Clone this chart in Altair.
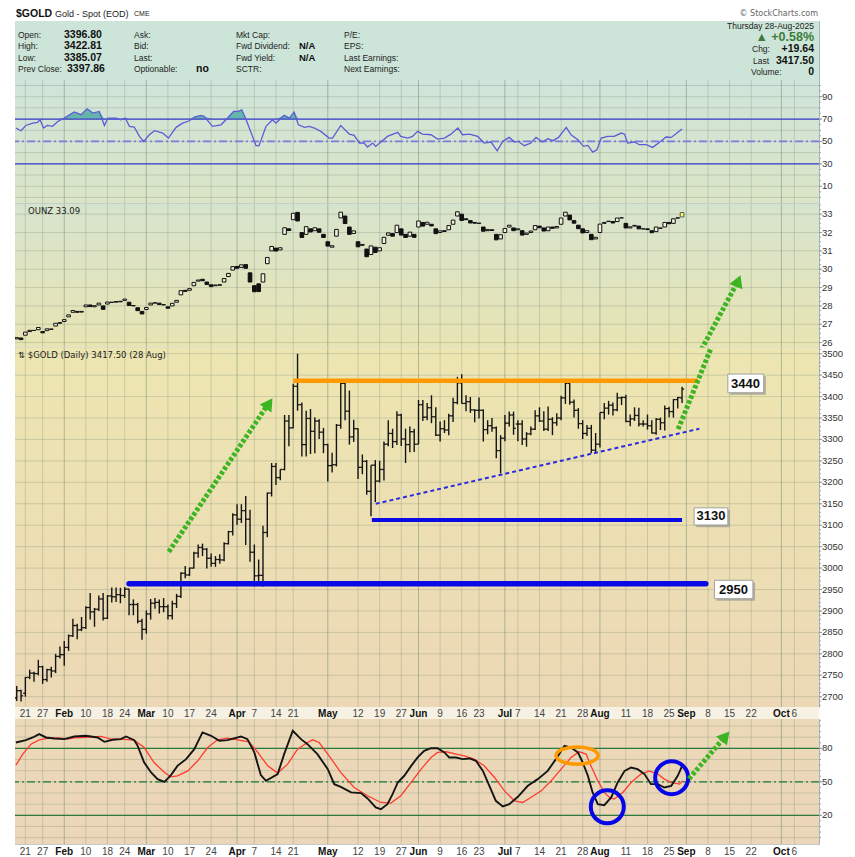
import altair as alt
import pandas as pd

W = 804

# ---------------- trading-day axis ----------------
tick_idx = [2, 6, 11, 16, 21, 25, 30, 35, 40, 45, 51, 55, 60, 64, 72, 79, 84, 89, 93, 98, 103, 107,
            113, 116, 121, 126, 131, 135, 141, 146, 151, 155, 160, 165, 170, 177, 180]
tick_lab = ["21", "27", "Feb", "10", "18", "24", "Mar", "10", "17", "24", "Apr", "7", "14", "21",
            "May", "12", "19", "27", "Jun", "9", "16", "23", "Jul", "7", "14", "21", "28", "Aug",
            "11", "18", "25", "Sep", "8", "15", "22", "Oct", "6"]

# ---------------- $GOLD daily OHLC (Jan 16 .. Aug 28, 2025) ----------------
gold_open = [2697, 2714, 2708, 2745, 2755, 2754, 2770, 2740, 2763, 2760, 2794,
             2798, 2815, 2842, 2866, 2856, 2861, 2908, 2898, 2904, 2928, 2883, 2935, 2933, 2938, 2936, 2951, 2915, 2915, 2876,
             2857, 2893, 2918, 2920, 2910, 2910, 2889, 2917, 2934, 2988, 2984, 3000, 3035, 3048, 3044, 3023, 3011, 3020, 3019, 3057, 3085,
             3124, 3114, 3134, 3114, 3037, 2982, 2983, 3083, 3175, 3237, 3211, 3230, 3343, 3327, 3424, 3381, 3288, 3349, 3319, 3343, 3317,
             3288, 3239, 3241, 3333, 3431, 3366, 3306, 3325, 3235, 3249, 3179, 3240, 3203, 3230, 3289, 3314, 3295, 3357, 3301, 3288, 3318,
             3289, 3381, 3352, 3374, 3353, 3310, 3325, 3322, 3355, 3386, 3432, 3384, 3388, 3369, 3368, 3368, 3323, 3332, 3327, 3274,
             3303, 3338, 3357, 3336, 3336, 3301, 3313, 3324, 3355, 3343, 3324, 3347, 3339, 3350, 3397, 3431, 3387, 3368, 3337, 3314, 3326, 3275,
             3289, 3363, 3373, 3380, 3369, 3397, 3398, 3342, 3348, 3356, 3336, 3336, 3332, 3315, 3347, 3339, 3372, 3365, 3393, 3397]
gold_high = [2725, 2716, 2746, 2763, 2758, 2786, 2772, 2765, 2770, 2800, 2817,
             2830, 2845, 2882, 2870, 2886, 2911, 2942, 2907, 2936, 2942, 2937, 2955, 2955, 2954, 2956, 2952, 2927, 2919, 2882,
             2901, 2928, 2930, 2927, 2930, 2915, 2924, 2940, 2990, 3005, 3001, 3038, 3055, 3057, 3047, 3034, 3028, 3032, 3060, 3087, 3128,
             3149, 3149, 3168, 3136, 3055, 3020, 3099, 3176, 3245, 3245, 3230, 3357, 3357, 3430, 3500, 3386, 3367, 3371, 3352, 3347, 3327,
             3290, 3269, 3336, 3437, 3434, 3414, 3346, 3326, 3265, 3252, 3240, 3252, 3250, 3295, 3345, 3325, 3366, 3360, 3325, 3330, 3325,
             3392, 3392, 3385, 3403, 3375, 3342, 3345, 3360, 3397, 3446, 3452, 3403, 3399, 3370, 3398, 3370, 3345, 3350, 3330, 3310,
             3357, 3365, 3365, 3345, 3345, 3317, 3330, 3368, 3375, 3366, 3377, 3352, 3361, 3402, 3433, 3438, 3393, 3373, 3345, 3334, 3334, 3315,
             3363, 3385, 3390, 3386, 3409, 3400, 3404, 3358, 3375, 3374, 3345, 3358, 3345, 3350, 3351, 3379, 3376, 3394, 3399, 3423]
gold_low = [2690, 2689, 2700, 2741, 2735, 2750, 2730, 2735, 2745, 2755, 2789,
            2772, 2807, 2839, 2834, 2853, 2858, 2880, 2863, 2900, 2878, 2881, 2920, 2921, 2918, 2930, 2890, 2890, 2871, 2833,
            2847, 2880, 2905, 2894, 2897, 2880, 2880, 2907, 2930, 2976, 2982, 2999, 3024, 3028, 2999, 3003, 3003, 3010, 3016, 3055, 3076,
            3101, 3105, 3054, 3015, 2957, 2970, 2957, 3072, 3167, 3194, 3205, 3228, 3284, 3326, 3367, 3260, 3260, 3266, 3268, 3301, 3268,
            3202, 3223, 3237, 3325, 3345, 3288, 3294, 3208, 3219, 3171, 3121, 3154, 3200, 3204, 3284, 3280, 3287, 3285, 3245, 3270, 3271,
            3289, 3343, 3345, 3338, 3308, 3295, 3315, 3310, 3341, 3382, 3384, 3366, 3362, 3340, 3349, 3295, 3312, 3318, 3256, 3221,
            3296, 3330, 3311, 3296, 3287, 3283, 3310, 3322, 3341, 3320, 3320, 3310, 3332, 3345, 3383, 3381, 3351, 3325, 3301, 3308, 3268, 3270,
            3281, 3347, 3358, 3356, 3366, 3380, 3340, 3331, 3343, 3330, 3330, 3323, 3314, 3311, 3322, 3321, 3352, 3351, 3372, 3385]
gold_close = [2714, 2702, 2745, 2755, 2754, 2770, 2740, 2763, 2760, 2794, 2798,
              2815, 2842, 2866, 2856, 2861, 2908, 2898, 2904, 2928, 2883, 2935, 2933, 2938, 2936, 2951, 2915, 2915, 2876, 2857,
              2893, 2918, 2920, 2910, 2910, 2889, 2917, 2934, 2988, 2984, 3000, 3035, 3048, 3044, 3023, 3011, 3020, 3019, 3057, 3085, 3124,
              3114, 3134, 3114, 3037, 2982, 2983, 3083, 3175, 3237, 3211, 3230, 3343, 3327, 3424, 3381, 3288, 3349, 3319, 3343, 3317, 3288,
              3239, 3241, 3333, 3431, 3366, 3306, 3325, 3235, 3249, 3179, 3240, 3203, 3230, 3289, 3314, 3295, 3357, 3301, 3288, 3318, 3289,
              3381, 3352, 3374, 3353, 3310, 3325, 3322, 3355, 3386, 3432, 3384, 3388, 3369, 3368, 3368, 3323, 3332, 3327, 3274, 3303,
              3338, 3357, 3326, 3336, 3301, 3313, 3324, 3355, 3343, 3324, 3347, 3339, 3350, 3397, 3431, 3387, 3368, 3337, 3314, 3326, 3275, 3289,
              3363, 3373, 3380, 3369, 3397, 3398, 3342, 3348, 3356, 3336, 3336, 3332, 3315, 3347, 3339, 3372, 3365, 3393, 3397.86, 3417.5]

# ---------------- OUNZ daily open / close ----------------
ounz_close = [26.27, 26.16, 26.57, 26.67, 26.66, 26.82, 26.53, 26.75, 26.72, 27.05, 27.09,
              27.25, 27.51, 27.75, 27.65, 27.70, 28.05, 27.96, 28.01, 28.15, 27.81, 28.21, 28.19, 28.24, 28.22, 28.37, 28.02, 28.02, 27.74, 27.56,
              27.91, 28.15, 28.17, 28.07, 28.07, 27.87, 28.14, 28.30, 28.83, 28.79, 28.94, 29.28, 29.41, 29.37, 29.17, 29.05, 29.14, 29.13, 29.49, 29.77, 30.14,
              30.05, 30.24, 30.05, 29.30, 28.77, 28.78, 29.75, 30.64, 31.24, 30.99, 31.17, 32.26, 32.11, 33.05, 32.63, 31.73, 32.32, 32.03, 32.26, 32.01, 31.73,
              31.26, 31.28, 32.17, 33.11, 32.49, 31.90, 32.09, 31.22, 31.35, 30.68, 31.27, 30.91, 31.17, 31.74, 31.98, 31.80, 32.40, 31.86, 31.73, 32.02, 31.74,
              32.63, 32.35, 32.56, 32.36, 31.94, 32.09, 32.06, 32.38, 32.68, 33.13, 32.66, 32.70, 32.52, 32.51, 32.51, 32.07, 32.16, 32.11, 31.60, 31.88,
              32.22, 32.40, 32.10, 32.20, 31.86, 31.97, 32.08, 32.38, 32.26, 32.08, 32.30, 32.23, 32.33, 32.79, 33.11, 32.69, 32.51, 32.21, 31.98, 32.10, 31.61, 31.74,
              32.46, 32.55, 32.62, 32.52, 32.79, 32.80, 32.25, 32.31, 32.39, 32.20, 32.20, 32.16, 31.99, 32.30, 32.23, 32.55, 32.48, 32.75, 32.79, 33.09]
ounz_open = [26.20, 26.25, 26.40, 26.60, 26.66, 26.70, 26.60, 26.65, 26.74, 26.90, 27.05,
             27.15, 27.40, 27.65, 27.70, 27.66, 27.95, 28.05, 27.95, 28.05, 28.00, 28.10, 28.20, 28.20, 28.25, 28.30, 28.20, 28.00, 27.90, 27.70,
             27.80, 28.05, 28.15, 28.15, 28.05, 27.95, 28.00, 28.20, 28.60, 28.85, 28.85, 29.10, 29.35, 29.45, 29.30, 29.15, 29.10, 29.15, 29.30, 29.60, 29.95,
             30.15, 30.10, 30.25, 29.80, 29.10, 29.20, 29.30, 30.30, 31.00, 31.15, 31.05, 31.90, 32.20, 32.70, 33.10, 32.00, 31.90, 32.20, 32.10, 32.20, 31.90,
             31.50, 31.20, 31.80, 32.80, 32.90, 32.30, 31.95, 31.50, 31.30, 31.10, 30.80, 31.20, 31.00, 31.40, 31.85, 31.95, 32.00, 32.20, 31.90, 31.80, 31.90,
             32.30, 32.55, 32.45, 32.45, 32.20, 32.00, 32.10, 32.15, 32.45, 32.90, 33.00, 32.75, 32.65, 32.55, 32.50, 32.30, 32.10, 32.15, 31.90, 31.65,
             32.00, 32.30, 32.25, 32.15, 32.10, 31.90, 32.00, 32.15, 32.35, 32.25, 32.10, 32.30, 32.25, 32.45, 32.90, 32.95, 32.65, 32.40, 32.20, 32.00, 31.90, 31.65,
             32.00, 32.50, 32.60, 32.60, 32.60, 32.80, 32.50, 32.25, 32.35, 32.35, 32.20, 32.20, 32.10, 32.05, 32.25, 32.30, 32.55, 32.50, 32.80, 32.85]

# ---------------- RSI(14) ----------------
rsi_x = [-0.2, 1.0, 2.1, 3.7, 4.8, 5.4, 6.2, 7.1, 8.3, 9.5, 11.0, 13.3, 14.9, 16.3, 17.6, 19.1, 20.3, 21.1, 23.0, 24.1,
         25.1, 26.1, 27.2, 28.4, 29.4, 30.7, 31.9, 33.8, 35.1, 36.9, 38.4, 40.0, 41.1, 42.6, 43.4, 45.3, 47.3, 48.8, 50.2, 51.3,
         52.1, 53.1, 55.4, 56.1, 57.7, 59.2, 60.0, 61.9, 63.1, 64.2, 65.2, 66.6, 67.7, 68.9, 70.4, 72.3, 73.1, 75.0, 77.0, 78.1,
         79.3, 80.4, 81.2, 82.4, 83.1, 85.8, 88.2, 88.9, 90.5, 91.6, 92.8, 93.9, 95.9, 97.4, 99.0, 100.5, 102.1, 103.2, 104.8, 106.7,
         108.2, 109.8, 111.2, 112.5, 114.0, 115.2, 116.1, 117.5, 119.0, 120.2, 121.7, 122.9, 124.1, 125.4, 127.2, 128.3, 129.9, 131.2, 132.2, 133.3,
         134.3, 135.3, 136.8, 138.3, 139.9, 140.7, 141.4, 143.0, 144.1, 145.7, 147.2, 148.8, 150.3, 151.5, 152.6, 154.0]
rsi_v = [62.0, 59.6, 64.3, 66.4, 67.0, 69.4, 62.0, 64.3, 63.5, 67.9, 70.9, 76.3, 73.9, 79.2, 75.4, 76.8, 64.3, 70.9, 70.9, 69.4,
         70.9, 63.5, 62.9, 54.5, 50.1, 56.0, 59.6, 57.5, 53.0, 62.6, 66.4, 68.5, 71.8, 73.3, 72.4, 63.5, 64.9, 70.9, 76.8, 76.8,
         78.3, 69.4, 46.2, 46.2, 63.5, 69.4, 66.4, 73.3, 70.9, 76.3, 64.9, 62.6, 63.5, 62.0, 59.0, 53.0, 53.0, 64.3, 56.5, 55.4,
         48.6, 48.6, 45.0, 48.6, 45.6, 54.5, 58.1, 54.5, 53.0, 54.5, 59.0, 56.5, 56.0, 52.1, 53.0, 56.5, 62.0, 56.0, 56.5, 54.5,
         48.6, 49.5, 41.7, 50.1, 53.6, 49.5, 50.1, 46.2, 48.6, 53.6, 49.5, 52.4, 50.7, 53.6, 62.6, 56.0, 51.5, 45.6, 46.5, 40.5,
         42.6, 53.0, 54.5, 54.5, 57.5, 56.5, 48.6, 49.5, 47.1, 47.1, 44.7, 49.2, 54.0, 53.6, 56.8, 61.1]

# ---------------- Slow stochastics %K / %D ----------------
k_x = [-0.2, 2.1, 3.7, 5.2, 6.8, 8.7, 11.0, 13.3, 16.0, 18.7, 20.3, 22.2, 24.1, 25.3, 27.2, 28.0, 29.5, 31.1, 32.6, 34.2,
       35.7, 37.2, 39.2, 41.1, 43.0, 45.0, 46.9, 48.8, 51.9, 53.4, 55.0, 56.5, 57.7, 60.4, 61.9, 63.9, 65.8, 67.3, 69.6, 72.0,
       73.5, 75.0, 77.4, 79.7, 81.2, 83.1, 84.3, 85.8, 87.0, 88.2, 89.7, 91.3, 92.8, 94.3, 95.9, 97.4, 99.0, 100.1, 101.7, 103.2,
       104.8, 106.3, 107.9, 109.4, 110.9, 112.5, 114.0, 116.0, 118.3, 120.6, 122.9, 124.8, 126.8, 128.3, 129.9, 131.0, 132.2, 133.3, 134.5, 136.0,
       137.6, 139.1, 140.7, 142.2, 143.7, 145.3, 146.8, 148.4, 149.9, 151.5, 153.0, 154.2]
k_v = [85.2, 87.3, 89.7, 92.7, 89.7, 88.8, 88.2, 90.6, 91.2, 89.7, 85.8, 87.6, 88.2, 90.6, 87.3, 82.2, 67.3, 58.4, 52.4, 50.0,
       56.0, 64.3, 70.3, 79.2, 94.2, 91.2, 86.7, 87.3, 90.6, 88.2, 76.3, 56.0, 50.9, 56.9, 74.8, 95.7, 88.2, 83.7, 74.8, 61.3,
       47.9, 45.5, 40.5, 39.9, 35.1, 27.0, 25.5, 30.0, 39.0, 49.4, 55.4, 64.3, 71.8, 77.8, 80.2, 80.1, 76.3, 71.8, 71.8, 70.3,
       70.9, 68.8, 59.8, 46.4, 33.0, 27.9, 30.0, 36.6, 46.4, 52.4, 59.8, 70.3, 82.2, 80.7, 76.3, 67.3, 55.4, 40.5, 30.0, 29.1,
       36.0, 49.4, 59.8, 62.8, 61.3, 56.9, 47.9, 47.9, 44.9, 46.4, 55.4, 65.8]
d_x = [-0.2, 1.4, 3.3, 5.2, 7.1, 9.8, 11.8, 13.3, 16.4, 19.5, 21.8, 24.1, 27.2, 29.5, 31.8, 34.2, 35.7, 37.2, 39.6, 41.9,
       44.2, 46.5, 48.8, 51.1, 53.8, 55.8, 58.1, 60.4, 62.7, 65.0, 67.3, 68.5, 70.0, 72.3, 75.0, 78.1, 81.2, 84.3, 86.6, 88.9,
       91.3, 93.6, 95.9, 97.4, 99.4, 101.7, 103.6, 105.9, 108.2, 110.6, 112.9, 115.2, 117.1, 119.0, 121.4, 123.7, 126.0, 128.3, 130.2, 131.8,
       132.9, 134.5, 136.0, 137.2, 138.3, 140.3, 142.2, 144.5, 146.4, 148.4, 149.9, 151.5, 153.4, 154.2]
d_v = [64.9, 74.8, 83.7, 87.6, 88.8, 89.4, 88.2, 89.4, 89.7, 90.6, 88.2, 88.2, 87.3, 80.7, 67.3, 58.4, 54.5, 55.4, 59.8, 68.8,
       80.7, 87.6, 89.1, 87.6, 85.8, 76.3, 64.3, 57.8, 65.8, 79.2, 85.2, 87.6, 85.2, 73.3, 58.4, 44.9, 37.5, 31.5, 30.9, 37.5,
       49.4, 61.3, 71.8, 76.3, 76.9, 74.8, 73.3, 70.3, 64.3, 53.9, 41.9, 33.0, 31.5, 36.0, 41.9, 50.9, 61.3, 71.8, 76.9, 74.8,
       64.3, 50.9, 40.5, 36.0, 34.5, 40.5, 49.4, 56.9, 59.8, 56.9, 52.4, 49.4, 47.9, 50.9]

# ---------------- scales ----------------
XS = alt.Scale(domain=[-0.4, 185.7], nice=False, zero=False)
RS = alt.Scale(domain=[-5.2, 104.9], nice=False, zero=False)
OS = alt.Scale(domain=[25.73, 33.556], nice=False, zero=False)
GY = alt.Scale(domain=[2676.0, 3513.3], nice=False, zero=False)
SS = alt.Scale(domain=[-5.92, 106.24], nice=False, zero=False)

H_HDR, H_RSI, H_OUNZ, H_GOLD, H_STRIP, H_STO = 59, 123.25, 143.5, 359, 12, 125.25

ticks_df = pd.DataFrame({"t": tick_idx, "lab": tick_lab, "major": [l.isalpha() for l in tick_lab]})
GRIDC = "#6f8a72"
FONT = "Liberation Sans"


def bg(h, c1, c2):
    grad = alt.LinearGradient(gradient="linear", x1=0, x2=0, y1=0, y2=1,
                              stops=[alt.GradientStop(color=c1, offset=0),
                                     alt.GradientStop(color=c2, offset=1)])
    return alt.Chart(alt.Data(values=[{"k": 0}])).mark_rect(color=grad).encode(
        x=alt.value(0), x2=alt.value(W), y=alt.value(0), y2=alt.value(h))


def vgrid():
    minor = alt.Chart(ticks_df).transform_filter("!datum.major").mark_rule(
        color=GRIDC, opacity=0.28, strokeWidth=1, clip=True).encode(x=alt.X("t:Q", scale=XS, axis=None))
    major = alt.Chart(ticks_df).transform_filter("datum.major").mark_rule(
        color=GRIDC, opacity=0.5, strokeWidth=1, clip=True).encode(x=alt.X("t:Q", scale=XS, axis=None))
    return [minor, major]


def hgrid(vals, ys, label_vals, minor_vals):
    gdf = pd.DataFrame({"v": vals})
    ldf = pd.DataFrame({"v": label_vals, "s": [str(v) for v in label_vals]})
    mdf = pd.DataFrame({"v": minor_vals})
    grid = alt.Chart(gdf).mark_rule(color=GRIDC, opacity=0.28, strokeWidth=1, clip=True).encode(
        y=alt.Y("v:Q", scale=ys, axis=None))
    mtk = alt.Chart(mdf).mark_rule(color="#9aa8b0", strokeWidth=1, clip=False).encode(
        x=alt.value(W), x2=alt.value(W + 2), y=alt.Y("v:Q", scale=ys, axis=None))
    tk = alt.Chart(ldf).mark_rule(color="#8a9aa4", strokeWidth=1).encode(
        x=alt.value(W), x2=alt.value(W + 3), y=alt.Y("v:Q", scale=ys, axis=None))
    lab = alt.Chart(ldf).mark_text(align="left", baseline="middle", font=FONT, fontSize=9.5,
                                   color="#333333").encode(
        x=alt.value(W + 3), y=alt.Y("v:Q", scale=ys, axis=None), text="s:N")
    return [grid, mtk, tk, lab]


def level(vals, ys, **kw):
    return alt.Chart(pd.DataFrame({"v": vals})).mark_rule(clip=True, **kw).encode(
        y=alt.Y("v:Q", scale=ys, axis=None))


def px_text(items, **kw):
    df = pd.DataFrame(items, columns=["x", "y", "s"])
    return alt.Chart(df).mark_text(baseline="middle", **kw).encode(
        x=alt.X("x:Q", scale=None, axis=None), y=alt.Y("y:Q", scale=None, axis=None), text="s:N")


def seg(df, ys, **kw):
    return alt.Chart(df).mark_rule(clip=True, **kw).encode(
        x=alt.X("x1:Q", scale=XS, axis=None), x2="x2:Q",
        y=alt.Y("y1:Q", scale=ys, axis=None), y2="y2:Q")


def head(x, y, ys, ang, size=200):
    return alt.Chart(pd.DataFrame({"x": [x], "y": [y]})).mark_point(
        shape="triangle-up", filled=True, size=size, angle=ang, color="#3db523", opacity=1).encode(
        x=alt.X("x:Q", scale=XS, axis=None), y=alt.Y("y:Q", scale=ys, axis=None))


# ---------------- header ----------------
hdr = alt.layer(
    bg(H_HDR, "#cde5d9", "#cde5d9"),
    px_text([(1, -7, "$GOLD")], align="left", font=FONT, fontSize=10.5, fontWeight="bold", color="#111"),
    px_text([(40, -7, "Gold - Spot (EOD)")], align="left", font=FONT, fontSize=9, color="#222"),
    px_text([(119, -7, "CME")], align="left", font=FONT, fontSize=7, color="#222"),
    px_text([(803, -7, "© StockCharts.com")], align="right", font="DejaVu Sans", fontSize=8, color="#666"),
    px_text([(3, 14, "Open:"), (3, 25.3, "High:"), (3, 36.6, "Low:"), (3, 47.8, "Prev Close:"),
             (119, 14, "Ask:"), (119, 25.3, "Bid:"), (119, 36.6, "Last:"), (119, 47.8, "Optionable:"),
             (221, 14, "Mkt Cap:"), (221, 25.3, "Fwd Dividend:"), (221, 36.6, "Fwd Yield:"), (221, 47.8, "SCTR:"),
             (329, 14, "P/E:"), (329, 25.3, "EPS:"), (329, 36.6, "Last Earnings:"), (329, 47.8, "Next Earnings:"),
             (737, 28, "Chg:"), (738, 39.5, "Last"), (736, 50.5, "Volume:")],
            align="left", font=FONT, fontSize=8.5, color="#222"),
    px_text([(799, 4.5, "Thursday  28-Aug-2025")], align="right", font=FONT, fontSize=8.5, color="#222"),
    px_text([(49, 14, "3396.80"), (49, 25.3, "3422.81"), (49, 36.6, "3385.07"), (52, 47.8, "3397.86"),
             (181, 47.8, "no")], align="left", font=FONT, fontSize=10.5, fontWeight="bold", color="#111"),
    px_text([(284, 25.3, "N/A"), (284, 36.6, "N/A")], align="left", font=FONT, fontSize=9.5,
            fontWeight="bold", color="#111"),
    px_text([(799, 28, "+19.64"), (799, 39.5, "3417.50"), (799, 50.5, "0")], align="right", font=FONT,
            fontSize=10.5, fontWeight="bold", color="#111"),
    px_text([(799, 15.5, "▲ +0.58%")], align="right", font=FONT, fontSize=12.5, fontWeight="bold",
            color="#3c7b3c"),
).properties(width=W, height=H_HDR)

# ---------------- RSI ----------------
rsi_df = pd.DataFrame({"i": rsi_x, "v": rsi_v})
rsi = alt.layer(
    bg(H_RSI, "#cfe4da", "#dbe5c6"),
    *vgrid(),
    *hgrid(list(range(0, 101, 10)), RS, [10, 30, 50, 70, 90], list(range(0, 101, 5))),
    alt.Chart(rsi_df).transform_calculate(top="max(datum.v, 70)").mark_area(
        color="#5db3a6", opacity=0.95, clip=True).encode(
        x=alt.X("i:Q", scale=XS, axis=None), y=alt.Y("top:Q", scale=RS, axis=None), y2=alt.datum(70)),
    level([30, 70], RS, color="#3b3bd0", strokeWidth=1.2),
    level([50], RS, color="#7a7ae0", strokeWidth=1.8, strokeDash=[8, 3, 2, 3]),
    alt.Chart(rsi_df).mark_line(color="#5c5cd6", strokeWidth=1.3, clip=True).encode(
        x=alt.X("i:Q", scale=XS, axis=None), y=alt.Y("v:Q", scale=RS, axis=None)),
).properties(width=W, height=H_RSI)

# ---------------- OUNZ candles ----------------
o_df = pd.DataFrame({"i": list(range(len(ounz_close))), "o": ounz_open, "c": ounz_close})
ob = alt.Chart(o_df).transform_calculate(x1="datum.i - 0.42", x2="datum.i + 0.42")


def body(filt, fill, stroke):
    return ob.transform_filter(filt).mark_rect(fill=fill, stroke=stroke, strokeWidth=1, clip=True).encode(
        x=alt.X("x1:Q", scale=XS, axis=None), x2="x2:Q",
        y=alt.Y("o:Q", scale=OS, axis=None), y2="c:Q")


arr2b = pd.DataFrame({"x1": [153.1], "x2": [166.9], "y1": [23.24], "y2": [29.33]})
ounz = alt.layer(
    bg(H_OUNZ, "#d7e4cd", "#e8e4b3"),
    *vgrid(),
    *hgrid(list(range(26, 34)), OS, list(range(26, 34)), [v / 4 for v in range(104, 135)]),
    body("datum.c >= datum.o && datum.i < 154", "#eef0dc", "#111"),
    body("datum.c < datum.o", "#111", "#111"),
    body("datum.i == 154", "#ffff55", "#555"),
    alt.Chart(alt.Data(values=[{"s": "OUNZ 33.09"}])).mark_text(
        align="left", baseline="middle", font="DejaVu Sans", fontSize=8.5, color="#222").encode(
        x=alt.value(13), y=alt.value(6.5), text="s:N"),
    seg(arr2b, OS, color="#3db523", strokeWidth=5, strokeDash=[3.5, 2]),
    head(167.0, 29.36, OS, 22),
).properties(width=W, height=H_OUNZ)

# ---------------- GOLD bars + annotations ----------------
g_df = pd.DataFrame({"i": list(range(len(gold_close))), "o": gold_open, "h": gold_high,
                     "l": gold_low, "c": gold_close})
gb = alt.Chart(g_df)
bar_c = "#141414"
ann_res = pd.DataFrame({"x1": [64.0], "x2": [157.7], "y1": [3437.0], "y2": [3437.0]})
ann_s1 = pd.DataFrame({"x1": [82.2], "x2": [154.0], "y1": [3112.0], "y2": [3112.0]})
ann_s2 = pd.DataFrame({"x1": [26.0], "x2": [159.5], "y1": [2963.6], "y2": [2963.6]})
ann_tr = pd.DataFrame({"x1": [83.1], "x2": [158.0], "y1": [3150.0], "y2": [3325.0]})
arr1 = pd.DataFrame({"x1": [35.2], "x2": [57.9], "y1": [3038.0], "y2": [3378.0]})
arr2 = pd.DataFrame({"x1": [153.1], "x2": [166.9], "y1": [3324.0], "y2": [3667.0]})
box_lab = ["3440", "3130", "2950"]
box_df = pd.DataFrame({"lab": box_lab, "x1": [164.6, 156.8, 161.5], "x2": [172.9, 164.6, 170.4],
                       "y1": [3452.5, 3140.5, 2971.5], "y2": [3409.0, 3100.5, 2928.6],
                       "tx": [168.7, 160.7, 165.9], "ty": [3430.5, 3120.5, 2950.0]})
box_sh = box_df.assign(x1=box_df.x1 + 0.5, x2=box_df.x2 + 0.5, y1=box_df.y1 - 5, y2=box_df.y2 - 5)

gold = alt.layer(
    bg(H_GOLD, "#ede6b1", "#ecd8b5"),
    *vgrid(),
    *hgrid(list(range(2700, 3501, 50)), GY, list(range(2700, 3501, 50)), list(range(2680, 3511, 10))),
    gb.mark_rule(color=bar_c, strokeWidth=1.4, clip=True).encode(
        x=alt.X("i:Q", scale=XS, axis=None), y=alt.Y("l:Q", scale=GY, axis=None), y2="h:Q"),
    gb.transform_calculate(xo="datum.i - 0.5").mark_rule(color=bar_c, strokeWidth=1.3, clip=True).encode(
        x=alt.X("xo:Q", scale=XS, axis=None), x2="i:Q", y=alt.Y("o:Q", scale=GY, axis=None)),
    gb.transform_calculate(xc="datum.i + 0.5").mark_rule(color=bar_c, strokeWidth=1.3, clip=True).encode(
        x=alt.X("i:Q", scale=XS, axis=None), x2="xc:Q", y=alt.Y("c:Q", scale=GY, axis=None)),
    seg(ann_res, GY, color="#ff9900", strokeWidth=4.5),
    seg(ann_s1, GY, color="#0a0ae6", strokeWidth=4),
    seg(ann_s2, GY, color="#0a0ae6", strokeWidth=5.5, strokeCap="round"),
    seg(ann_tr, GY, color="#2a2ae0", strokeWidth=2, strokeDash=[4, 3]),
    seg(arr1, GY, color="#3db523", strokeWidth=5, strokeDash=[3.5, 2]),
    head(58.4, 3384, GY, 34),
    seg(arr2, GY, color="#3db523", strokeWidth=5, strokeDash=[3.5, 2]),
    alt.Chart(box_sh).mark_rect(color="#8c8c8c", opacity=0.6).encode(
        x=alt.X("x1:Q", scale=XS, axis=None), x2="x2:Q", y=alt.Y("y1:Q", scale=GY, axis=None), y2="y2:Q"),
    alt.Chart(box_df).mark_rect(fill="#ffffff", stroke="#a0a0a0", strokeWidth=1).encode(
        x=alt.X("x1:Q", scale=XS, axis=None), x2="x2:Q", y=alt.Y("y1:Q", scale=GY, axis=None), y2="y2:Q"),
    alt.Chart(box_df).mark_text(font="Liberation Sans Narrow, Arial Narrow, Liberation Sans",
                                fontSize=13, fontWeight="bold", color="#111").encode(
        x=alt.X("tx:Q", scale=XS, axis=None), y=alt.Y("ty:Q", scale=GY, axis=None), text="lab:N"),
    alt.Chart(alt.Data(values=[{"s": "⇅ $GOLD (Daily) 3417.50 (28 Aug)"}])).mark_text(
        align="left", baseline="middle", font="DejaVu Sans", fontSize=8.5, color="#222").encode(
        x=alt.value(3), y=alt.value(7), text="s:N"),
).properties(width=W, height=H_GOLD)


# ---------------- date label strips ----------------
def strip(color):
    t = alt.Chart(ticks_df)
    return alt.layer(
        bg(H_STRIP, color, color),
        t.transform_filter("!datum.major").mark_text(font=FONT, fontSize=10, color="#444").encode(
            x=alt.X("t:Q", scale=XS, axis=None), y=alt.value(6.5), text="lab:N"),
        t.transform_filter("datum.major").mark_text(font=FONT, fontSize=10, fontWeight="bold",
                                                    color="#111").encode(
            x=alt.X("t:Q", scale=XS, axis=None), y=alt.value(6.5), text="lab:N"),
    ).properties(width=W, height=H_STRIP, view=alt.ViewBackground(stroke="transparent"))


# ---------------- stochastics ----------------
k_df = pd.DataFrame({"i": k_x, "v": k_v})
d_df = pd.DataFrame({"i": d_x, "v": d_v})
arr3 = pd.DataFrame({"x1": [155.6], "x2": [163.9], "y1": [52.7], "y2": [90.3]})
ELLIPSE = "M-1,0A1,0.41,0,1,0,1,0A1,0.41,0,1,0,-1,0Z"
sto = alt.layer(
    bg(H_STO, "#ecd9b7", "#ebd6b9"),
    *vgrid(),
    *hgrid(list(range(0, 101, 10)), SS, [20, 50, 80], list(range(0, 106, 5))),
    level([20, 80], SS, color="#2e7a3e", strokeWidth=1.2),
    level([50], SS, color="#1d7a3c", strokeWidth=1.2, strokeDash=[8, 3, 2, 3]),
    alt.Chart(d_df).mark_line(color="#ff3b30", strokeWidth=1.3, clip=True).encode(
        x=alt.X("i:Q", scale=XS, axis=None), y=alt.Y("v:Q", scale=SS, axis=None)),
    alt.Chart(k_df).mark_line(color="#151515", strokeWidth=1.9, clip=True).encode(
        x=alt.X("i:Q", scale=XS, axis=None), y=alt.Y("v:Q", scale=SS, axis=None)),
    alt.Chart(pd.DataFrame({"x": [129.7], "y": [73.5]})).mark_point(
        shape=ELLIPSE, size=1764, filled=False, stroke="#ff9900", strokeWidth=3.5, opacity=1).encode(
        x=alt.X("x:Q", scale=XS, axis=None), y=alt.Y("y:Q", scale=SS, axis=None)),
    alt.Chart(pd.DataFrame({"x": [136.7, 151.6], "y": [27.6, 53.6]})).mark_point(
        shape="circle", size=1089, filled=False, stroke="#0505e8", strokeWidth=4, opacity=1).encode(
        x=alt.X("x:Q", scale=XS, axis=None), y=alt.Y("y:Q", scale=SS, axis=None)),
    seg(arr3, SS, color="#3db523", strokeWidth=5, strokeDash=[3.5, 2]),
    head(164.05, 90.8, SS, 40),
).properties(width=W, height=H_STO)

chart = alt.vconcat(hdr, rsi, ounz, gold, strip("#f6f1e3"), sto, strip("#ffffff"),
                    spacing=0, bounds="flush").properties(
    padding={"left": 6, "top": 0, "right": 2, "bottom": 0}
).configure_view(stroke="#a3b5bf", strokeWidth=1)

chart.save("out.html", embed_options={"renderer": "svg", "actions": False})
